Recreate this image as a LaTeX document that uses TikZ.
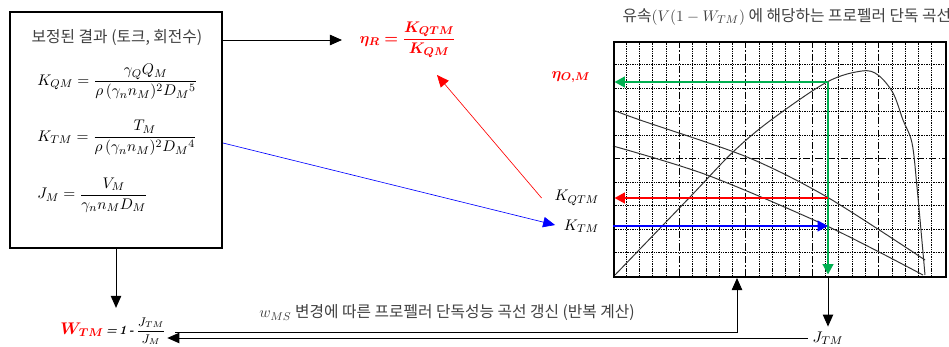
\documentclass[tikz,border=0pt]{standalone}
\usepackage{amsmath,bm}
\usepackage{fontspec}
\newfontfamily\kr{Noto Sans CJK KR}
\usetikzlibrary{arrows.meta,positioning}
\definecolor{curvegreen}{RGB}{0,176,80}
\definecolor{textgray}{RGB}{64,64,64}

\begin{document}
\begin{tikzpicture}[
  x=0.025cm, y=-0.025cm,
  font=\fontsize{11}{13}\selectfont,
  krtext/.style={font=\kr\fontsize{11.2}{13}\selectfont, text=textgray, inner sep=1pt},
  eqn/.style={anchor=west, inner sep=0pt},
  redlbl/.style={text=red, inner sep=1pt},
  frame/.style={draw, line width=1.4pt, inner sep=0pt, anchor=north west},
  arr/.style={-{Triangle[length=3mm,width=2.6mm]}, line width=0.7pt},
  thinarr/.style={-{Triangle[length=3mm,width=2.6mm]}, line width=0.45pt},
  bigarr/.style={-{Triangle[length=2.6mm,width=2.6mm]}, line width=2.1pt},
  gridline/.style={line width=0.5pt, dash pattern=on 1pt off 0.7pt},
  majorline/.style={line width=0.5pt, dash pattern=on 5pt off 1.5pt on 1pt off 1.5pt},
  curve/.style={line width=0.7pt, black!80},
]
\useasboundingbox (0,0) rectangle (949,347);

% ====== CORRECTED RESULTS ======
\node[frame, minimum width=5.3cm, minimum height=5.9cm] (resultbox) at (9,11) {};
\node[krtext] (restitle) at (117,38) {보정된 결과 (토크, 회전수)};
\node[eqn] (kqm) at (37,82) {$K_{QM} = \dfrac{\gamma_Q Q_M}{\rho\,(\gamma_n n_M)^2 D_M{}^5}$};
\node[eqn] (ktm) at (37,138) {$K_{TM} = \dfrac{T_M}{\rho\,(\gamma_n n_M)^2 D_M{}^4}$};
\node[eqn] (jm) at (37,195) {$J_M = \dfrac{V_M}{\gamma_n n_M D_M}$};

% ====== RELATIVE ROTATIVE EFFICIENCY ======
\node[redlbl, anchor=west] (etaR) at (358,40) {$\bm{\eta_R} \mathrel{\bm{=}} \dfrac{\bm{K_{QTM}}}{\bm{K_{QM}}}$};
\coordinate (etaRtip) at (437,75);
\draw[arr, shorten >=4mm] (etaR.west -| resultbox.east) -- (etaR.west);

% ====== OPEN WATER CHART ======
\node[krtext, anchor=west] (charttitle) at (621,17) {유속$(V(1-W_{TM})$ 에 해당하는 프로펠러 단독 곡선};

% grid
\foreach \i in {1,2,3,4,6,7,8,9,11,12,13,14,16,17,18,19,21,22,23,24}
  \draw[gridline] ({613+\i*13.28},41) -- ({613+\i*13.28},276);
\foreach \i in {5,10,15,20}
  \draw[majorline] ({613+\i*13.28},41) -- ({613+\i*13.28},276);
\foreach \j in {1,2,3,4,6,7,8,9}
  \draw[gridline] (613,{41+\j*23.5}) -- (945,{41+\j*23.5});
\draw[majorline] (613,158.5) -- (945,158.5);

% curves (eta_O, K_Q, K_T)
\draw[curve] plot[smooth, tension=0.55] coordinates {(615,275) (690,197) (733,152) (771,120) (827,82) (862,71) (878,75) (893,93) (903,120) (912,143) (917,187) (925,275)};
\draw[curve] plot[smooth, tension=0.5] coordinates {(613,110) (640,120) (747,157) (827,197) (925,260)};
\draw[curve] plot[smooth, tension=0.5] coordinates {(613,146) (707,175) (827,226) (923,275)};

\node[frame, minimum width=8.3cm, minimum height=5.875cm] (chart) at (613,41) {};

% operating point
\coordinate (etaop) at (828,82);
\coordinate (kqop) at (828,198);
\coordinate (ktop) at (828,226);
\coordinate (jop) at (828,276);
\coordinate (update) at (737,278);

\draw[bigarr, curvegreen, shorten >=1pt] (etaop) -- (jop);
\draw[bigarr, curvegreen, shorten >=1pt] (etaop) -- (etaop -| chart.west);
\draw[bigarr, red, shorten >=1pt] (kqop) -- (kqop -| chart.west);
\draw[bigarr, blue] (ktop -| chart.west) -- (ktop);

% labels left of chart
\node[redlbl] (etaOM) at (571,77) {$\bm{\eta_{O,M}}$};
\node[anchor=east] (KQTM) at (604,198) {$K_{QTM}$};
\node[anchor=east] (KTM) at (604,226) {$K_{TM}$};

\draw[thinarr, red] ([xshift=-2mm]KQTM.west) -- (etaRtip);
\draw[thinarr, blue, shorten >=1mm] ([yshift=-3.25mm]resultbox.east) -- (KTM.west);

% ====== ITERATION ======
\node (JTM) at (828,338) {$J_{TM}$};
\draw[arr] (jop) -- (JTM.north);

\node[inner sep=1pt, font=\fontsize{9}{11}\selectfont] (WTM) at (113,331)
  {\textcolor{red}{\fontsize{12}{14}\selectfont$\bm{W_{TM}}$}\,\textbf{\textit{=\,1\,-}}\,$\dfrac{J_{TM}}{J_M}$};
\draw[arr, shorten >=2mm] (resultbox.south) -- (resultbox.south |- WTM.north);

\draw[arr] (JTM.west) -- (JTM.west -| WTM.east);
\draw[arr] ([shift={(8,1)}]WTM.east) -| (update);
\node[krtext] (updlabel) at (447,313) {$w_{MS}$ 변경에 따른 프로펠러 단독성능 곡선 갱신 (반복 계산)};

\end{tikzpicture}
\end{document}
